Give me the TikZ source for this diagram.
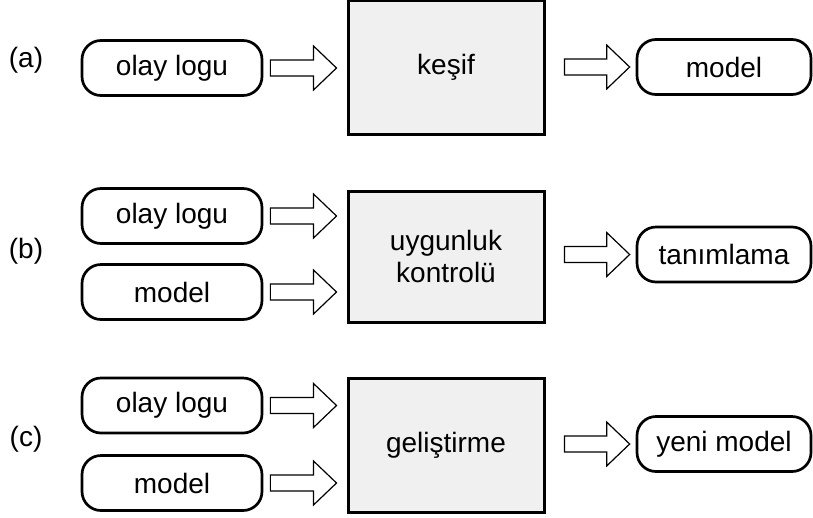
\documentclass[tikz,border=0pt]{standalone}
\usepackage{fontspec}
\setmainfont{Liberation Sans}
\usetikzlibrary{calc}
\definecolor{boxgray}{HTML}{F0F0F0}
\tikzset{
  pill/.style={draw=black, line width=2.7pt, rounded corners=19pt, minimum width=180pt, minimum height=55pt, inner sep=0pt},
  outpill/.style={pill, minimum width=174pt},
  procbox/.style={draw=black, fill=boxgray, line width=3pt, minimum width=196pt, inner sep=0pt, align=center},
  arrowline/.style={draw=black, line width=1.2pt, fill=white, line join=miter},
  lbl/.style={inner sep=0pt}
}
\newcommand{\blockarr}[2]{%
  \draw[arrowline] let \p1=(#1), \p2=(#2) in
    (\x1,\y1+8pt) -- (\x2-23pt,\y1+8pt) -- (\x2-23pt,\y1+22pt) -- (\x2,\y1)
    -- (\x2-23pt,\y1-22pt) -- (\x2-23pt,\y1-8pt) -- (\x1,\y1-8pt) -- cycle;}
\begin{document}
\begin{tikzpicture}[x=1pt,y=-1pt, font=\fontsize{28}{32}\selectfont]
\useasboundingbox (0,0) rectangle (813,517);
% row (a)
\node[lbl] (la) at (26,60) {(a)};
\node[pill] (aIn) at (172,68) {olay logu};
\node[procbox, minimum height=134pt] (aBox) at (446,67.5) {keşif};
\node[outpill] (aOut) at (724,67) {model};
% row (b)
\node[lbl] (lb) at (26,251) {(b)};
\node[pill] (bIn1) at (172,216) {olay logu};
\node[pill] (bIn2) at (172,292) {model};
\node[procbox, minimum height=131pt] (bBox) at (446,256.5) {uygunluk\\kontrolü};
\node[outpill] (bOut) at (724,254.5) {tanımlama};
% row (c)
\node[lbl] (lc) at (26,439) {(c)};
\node[pill] (cIn1) at (172,405.5) {olay logu};
\node[pill] (cIn2) at (172,483) {model};
\node[procbox, minimum height=134pt] (cBox) at (446,445) {geliştirme};
\node[outpill] (cOut) at (724,444) {yeni model};
% arrow endpoints
\foreach \src/\dst/\k in {aIn/aBox/a1, bIn1/bBox/b1, bIn2/bBox/b2, cIn1/cBox/c1, cIn2/cBox/c2}{
  \coordinate (\k s) at ($(\src.east)+(7,0)$);
  \coordinate (\k t) at ($(\dst.west |- \src.east)+(-10,0)$);
}
\foreach \src/\dst/\k in {aBox/aOut/a3, bBox/bOut/b3, cBox/cOut/c3}{
  \coordinate (\k s) at ($(\src.east |- \dst.west)+(19,0)$);
  \coordinate (\k t) at ($(\dst.west)+(-6,0)$);
}
\blockarr{a1s}{a1t}
\blockarr{b1s}{b1t}
\blockarr{b2s}{b2t}
\blockarr{c1s}{c1t}
\blockarr{c2s}{c2t}
\blockarr{a3s}{a3t}
\blockarr{b3s}{b3t}
\blockarr{c3s}{c3t}
\end{tikzpicture}
\end{document}
